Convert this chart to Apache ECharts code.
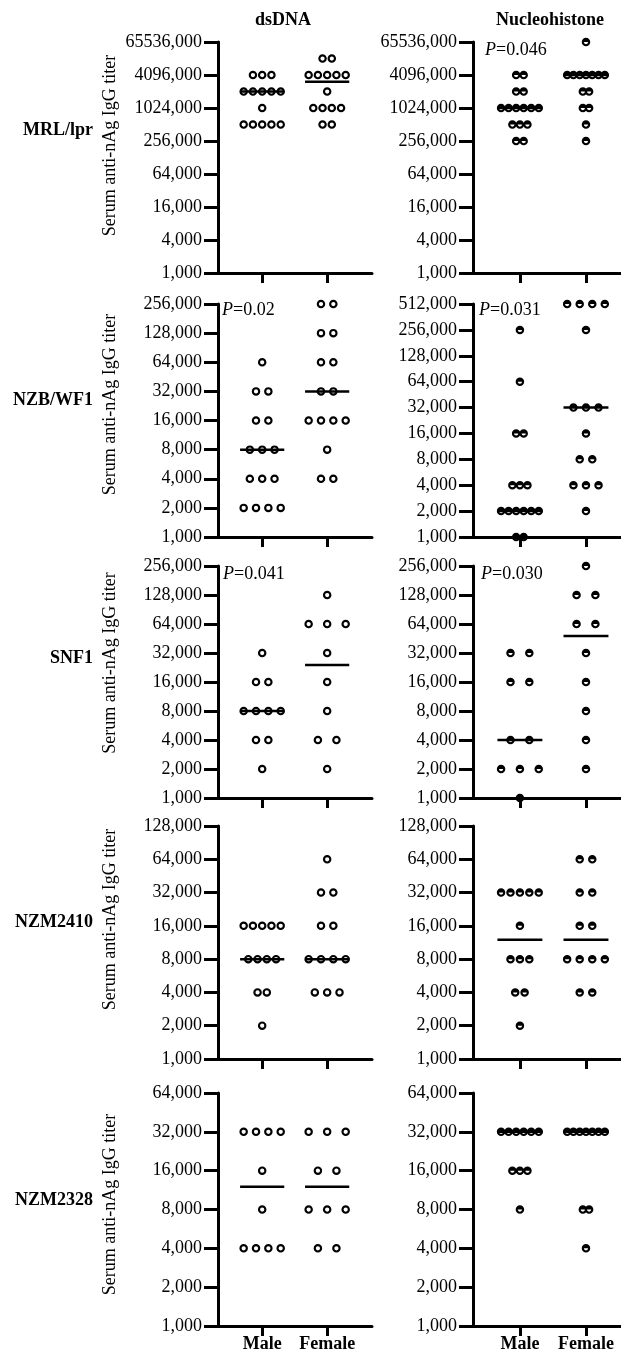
<!DOCTYPE html>
<html>
<head>
<meta charset="utf-8">
<script src="https://cdn.jsdelivr.net/npm/echarts@6/dist/echarts.min.js"></script>
<style>
  html, body { margin: 0; padding: 0; background: #fff; }
  #chart { width: 621px; height: 1359px; }
</style>
</head>
<body>
<div id="chart"></div>
<script>
// one entry per mouse (serum titer)
const mrlDsMale = [4096000, 4096000, 4096000, 2048000, 2048000, 2048000, 2048000, 2048000, 1024000, 512000, 512000, 512000, 512000, 512000]
const mrlDsFemale = [8192000, 8192000, 4096000, 4096000, 4096000, 4096000, 4096000, 2048000, 1024000, 1024000, 1024000, 1024000, 512000, 512000]
const mrlNhMale = [4096000, 4096000, 2048000, 2048000, 1024000, 1024000, 1024000, 1024000, 1024000, 1024000, 512000, 512000, 512000, 256000, 256000]
const mrlNhFemale = [16384000, 4096000, 4096000, 4096000, 4096000, 4096000, 4096000, 4096000, 2048000, 2048000, 1024000, 1024000, 512000, 256000]

const nzbDsMale = [64000, 32000, 32000, 16000, 16000, 8000, 8000, 8000, 4000, 4000, 4000, 2000, 2000, 2000, 2000]
const nzbDsFemale = [256000, 256000, 128000, 128000, 64000, 64000, 32000, 32000, 16000, 16000, 16000, 16000, 8000, 4000, 4000]
const nzbNhMale = [256000, 64000, 16000, 16000, 4000, 4000, 4000, 2000, 2000, 2000, 2000, 2000, 2000, 1000, 1000]
const nzbNhFemale = [512000, 512000, 512000, 512000, 256000, 32000, 32000, 32000, 16000, 8000, 8000, 4000, 4000, 4000, 2000]

const snfDsMale = [32000, 16000, 16000, 8000, 8000, 8000, 8000, 4000, 4000, 2000]
const snfDsFemale = [128000, 64000, 64000, 64000, 32000, 16000, 8000, 4000, 4000, 2000]
const snfNhMale = [32000, 32000, 16000, 16000, 4000, 4000, 2000, 2000, 2000, 1000]
const snfNhFemale = [256000, 128000, 128000, 64000, 64000, 32000, 16000, 8000, 4000, 2000]

const nzm2410DsMale = [16000, 16000, 16000, 16000, 16000, 8000, 8000, 8000, 8000, 4000, 4000, 2000]
const nzm2410DsFemale = [64000, 32000, 32000, 16000, 16000, 8000, 8000, 8000, 8000, 4000, 4000, 4000]
const nzm2410NhMale = [32000, 32000, 32000, 32000, 32000, 16000, 8000, 8000, 8000, 4000, 4000, 2000]
const nzm2410NhFemale = [64000, 64000, 32000, 32000, 16000, 16000, 8000, 8000, 8000, 8000, 4000, 4000]

const nzm2328DsMale = [32000, 32000, 32000, 32000, 16000, 8000, 4000, 4000, 4000, 4000]
const nzm2328DsFemale = [32000, 32000, 32000, 16000, 16000, 8000, 8000, 8000, 4000, 4000]
const nzm2328NhMale = [32000, 32000, 32000, 32000, 32000, 32000, 16000, 16000, 16000, 8000]
const nzm2328NhFemale = [32000, 32000, 32000, 32000, 32000, 32000, 32000, 8000, 8000, 4000]

const groups = ['Male', 'Female']
const antigens = ['dsDNA', 'Nucleohistone']
const strains = ['MRL/lpr', 'NZB/WF1', 'SNF1', 'NZM2410', 'NZM2328']
const pValues = [['', '0.046'], ['0.02', '0.031'], ['0.041', '0.030'], ['', ''], ['', '']]

// y tick labels as printed on each axis
const ticksMrl = ['1,000', '4,000', '16,000', '64,000', '256,000', '1024,000', '4096,000', '65536,000']
const ticks256k = ['1,000', '2,000', '4,000', '8,000', '16,000', '32,000', '64,000', '128,000', '256,000']
const ticks512k = ['1,000', '2,000', '4,000', '8,000', '16,000', '32,000', '64,000', '128,000', '256,000', '512,000']
const ticks128k = ['1,000', '2,000', '4,000', '8,000', '16,000', '32,000', '64,000', '128,000']
const ticks64k = ['1,000', '2,000', '4,000', '8,000', '16,000', '32,000', '64,000']

const rows = [
  {top: 42, height: 231, step: 2, ticks: [ticksMrl, ticksMrl], data: [[mrlDsMale, mrlDsFemale], [mrlNhMale, mrlNhFemale]], labelY: 130, nameShift: 12},
  {top: 304, height: 233, step: 1, ticks: [ticks256k, ticks512k], data: [[nzbDsMale, nzbDsFemale], [nzbNhMale, nzbNhFemale]], labelY: 400, nameShift: 16},
  {top: 566, height: 232, step: 1, ticks: [ticks256k, ticks256k], data: [[snfDsMale, snfDsFemale], [snfNhMale, snfNhFemale]], labelY: 658, nameShift: 19},
  {top: 826, height: 233, step: 1, ticks: [ticks128k, ticks128k], data: [[nzm2410DsMale, nzm2410DsFemale], [nzm2410NhMale, nzm2410NhFemale]], labelY: 922, nameShift: 23},
  {top: 1093, height: 233, step: 1, ticks: [ticks64k, ticks64k], data: [[nzm2328DsMale, nzm2328DsFemale], [nzm2328NhMale, nzm2328NhFemale]], labelY: 1200, nameShift: 5}
]
const cols = [
  {left: 218, width: 154, min: 0.32, max: 2.69, titleX: 283},
  {left: 473, width: 148, min: 0.29, max: 2.53, titleX: 550}
]

// open ring for dsDNA, top-half filled ring for nucleohistone
const ringPath = 'path://M0,10A10,10,0,1,1,20,10A10,10,0,1,1,0,10ZM5,10A5,5,0,1,0,15,10A5,5,0,1,0,5,10Z'
const halfPath = 'path://M0,10A10,10,0,1,1,20,10A10,10,0,1,1,0,10ZM5,10A5,5,0,0,0,15,10Z'
const serif = '"Liberation Serif", "Times New Roman", serif'

const level = t => Math.log2(t / 1000)

function median(values) {
  const s = values.slice().sort((a, b) => a - b)
  const m = Math.floor(s.length / 2)
  return s.length % 2 ? s[m] : (s[m - 1] + s[m]) / 2
}

// spread tied values side by side like a dot plot
function spread(values, center) {
  const counts = {}
  values.forEach(v => { counts[v] = (counts[v] || 0) + 1 })
  const nmax = Math.max(...Object.values(counts))
  const gap = nmax > 1 ? Math.min(0.285, 0.57 / (nmax - 1)) : 0
  const pts = []
  Object.keys(counts).forEach(k => {
    const n = counts[k]
    for (let i = 0; i < n; i++) {
      pts.push([center + (i - (n - 1) / 2) * gap, level(+k)])
    }
  })
  return pts
}

const grid = [], xAxis = [], yAxis = [], series = [], graphic = []
const axisLineStyle = {color: '#000', width: 3}

rows.forEach((row, r) => {
  cols.forEach((col, c) => {
    const idx = r * 2 + c
    const ticks = row.ticks[c]
    grid.push({left: col.left, width: col.width, top: row.top, height: row.height})
    xAxis.push({
      gridIndex: idx,
      type: 'value',
      min: col.min,
      max: col.max,
      axisLine: {lineStyle: axisLineStyle},
      axisTick: {customValues: [1, 2], length: 10, lineStyle: axisLineStyle},
      axisLabel: {
        show: r === rows.length - 1,
        customValues: [1, 2],
        formatter: v => groups[Math.round(v) - 1],
        margin: 9,
        color: '#000',
        fontFamily: serif,
        fontWeight: 'bold',
        fontSize: 18
      },
      splitLine: {show: false}
    })
    yAxis.push({
      gridIndex: idx,
      type: 'value',
      min: 0,
      max: (ticks.length - 1) * row.step,
      interval: row.step,
      axisLine: {show: true, lineStyle: axisLineStyle},
      axisTick: {show: true, length: 14, lineStyle: axisLineStyle},
      axisLabel: {
        margin: 16,
        color: '#000',
        fontFamily: serif,
        fontSize: 18,
        formatter: v => ticks[Math.round(v / row.step)]
      },
      splitLine: {show: false},
      name: c === 0 ? 'Serum anti-nAg IgG titer' : '',
      nameLocation: 'middle',
      nameGap: 99,
      nameTextStyle: {color: '#000', fontFamily: serif, fontSize: 18, padding: [0, 0, 0, row.nameShift * 2]}
    })
    row.data[c].forEach((vals, g) => {
      series.push({
        type: 'scatter',
        xAxisIndex: idx,
        yAxisIndex: idx,
        data: spread(vals, g + 1),
        symbol: c === 0 ? ringPath : halfPath,
        symbolSize: 8.5,
        itemStyle: {color: '#000', opacity: 1},
        silent: true
      })
      const med = level(median(vals))
      series.push({
        type: 'line',
        xAxisIndex: idx,
        yAxisIndex: idx,
        data: [[g + 1 - 0.34, med], [g + 1 + 0.34, med]],
        symbol: 'none',
        lineStyle: {color: '#000', width: 2.5},
        z: 3,
        silent: true
      })
    })
  })
  graphic.push({
    type: 'text', x: 93, y: row.labelY,
    style: {text: strains[r], fill: '#000', font: 'bold 18px ' + serif, align: 'right', verticalAlign: 'middle', textAlign: 'right', textVerticalAlign: 'middle'}
  })
})

antigens.forEach((a, c) => {
  graphic.push({
    type: 'text', x: cols[c].titleX, y: 20,
    style: {text: a, fill: '#000', font: 'bold 18px ' + serif, align: 'center', verticalAlign: 'middle', textAlign: 'center', textVerticalAlign: 'middle'}
  })
})

// P values sit just inside the top-left corner of their panel
const pPos = [[null, [485, 50]], [[222, 310], [479, 310]], [[223, 574], [481, 574]], [null, null], [null, null]]
pValues.forEach((pair, r) => {
  pair.forEach((p, c) => {
    if (!p) return
    const pos = pPos[r][c]
    graphic.push({
      type: 'text', x: pos[0], y: pos[1],
      style: {
        text: '{i|P}=' + p,
        fill: '#000',
        font: '18px ' + serif,
        align: 'left', verticalAlign: 'middle', textAlign: 'left', textVerticalAlign: 'middle',
        rich: {i: {fontStyle: 'italic', fontFamily: serif, fontSize: 18, fill: '#000'}}
      }
    })
  })
})

const chart = echarts.init(document.getElementById('chart'))
chart.setOption({
  backgroundColor: '#fff',
  animation: false,
  grid: grid,
  xAxis: xAxis,
  yAxis: yAxis,
  series: series,
  graphic: graphic
})
</script>
</body>
</html>
